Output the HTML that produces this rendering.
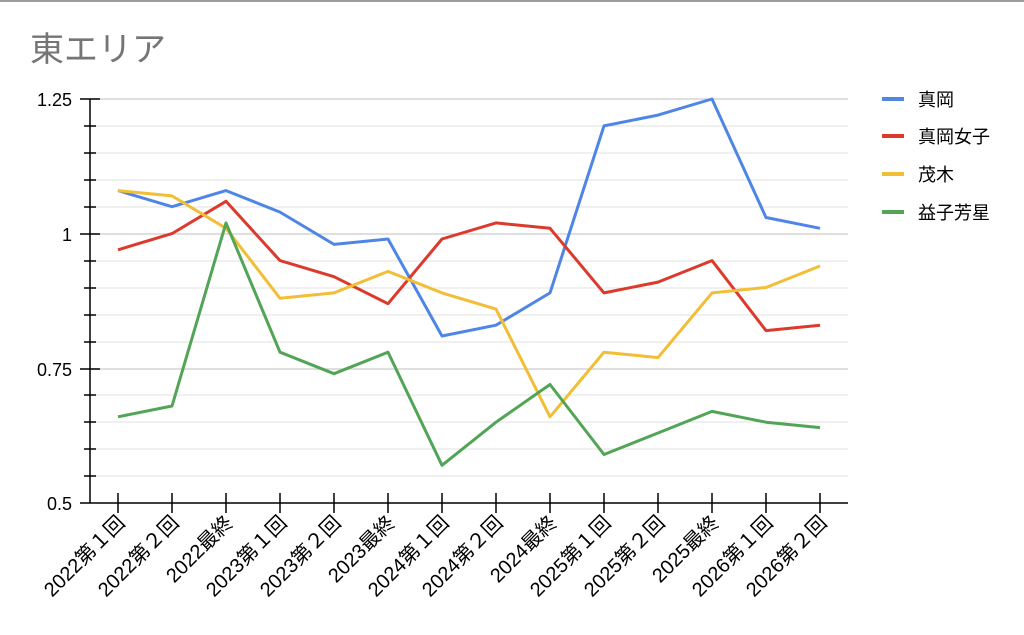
<!DOCTYPE html>
<html><head><meta charset="utf-8"><style>
body{margin:0;background:#fff;}
svg{display:block;font-family:"Liberation Sans","Noto Sans CJK JP",sans-serif;}
</style></head><body>
<svg width="1024" height="635" viewBox="0 0 1024 635" xmlns="http://www.w3.org/2000/svg">
<rect x="0" y="0" width="1024" height="2" fill="#9e9e9e"/>
<text x="30" y="61" font-size="34" fill="#757575">東エリア</text>
<g stroke="#e0e0e0" stroke-width="1">
<line x1="90" x2="848" y1="126" y2="126"/><line x1="90" x2="848" y1="153" y2="153"/><line x1="90" x2="848" y1="180" y2="180"/><line x1="90" x2="848" y1="207" y2="207"/>
<line x1="90" x2="848" y1="261" y2="261"/><line x1="90" x2="848" y1="288" y2="288"/><line x1="90" x2="848" y1="315" y2="315"/><line x1="90" x2="848" y1="342" y2="342"/>
<line x1="90" x2="848" y1="395" y2="395"/><line x1="90" x2="848" y1="422" y2="422"/><line x1="90" x2="848" y1="449" y2="449"/><line x1="90" x2="848" y1="476" y2="476"/>
</g>
<g stroke="#cccccc" stroke-width="1.2">
<line x1="90" x2="848" y1="99" y2="99"/><line x1="90" x2="848" y1="234" y2="234"/><line x1="90" x2="848" y1="369" y2="369"/>
</g>
<g stroke="#000" stroke-width="1.5">
<line x1="90" y1="99" x2="90" y2="503"/><line x1="80" y1="503" x2="848" y2="503"/>
<line x1="80" x2="100" y1="99" y2="99"/><line x1="80" x2="100" y1="234" y2="234"/><line x1="80" x2="100" y1="369" y2="369"/>
<line x1="84" x2="96" y1="126" y2="126"/><line x1="84" x2="96" y1="153" y2="153"/><line x1="84" x2="96" y1="180" y2="180"/><line x1="84" x2="96" y1="207" y2="207"/>
<line x1="84" x2="96" y1="261" y2="261"/><line x1="84" x2="96" y1="288" y2="288"/><line x1="84" x2="96" y1="315" y2="315"/><line x1="84" x2="96" y1="342" y2="342"/>
<line x1="84" x2="96" y1="395" y2="395"/><line x1="84" x2="96" y1="422" y2="422"/><line x1="84" x2="96" y1="449" y2="449"/><line x1="84" x2="96" y1="476" y2="476"/>
</g>
<g font-size="18" fill="#000" text-anchor="end">
<text x="72" y="106">1.25</text><text x="72" y="241">1</text><text x="72" y="376">0.75</text><text x="72" y="510">0.5</text>
</g>
<g id="xt" stroke="#000" stroke-width="1.5"></g>
<g id="xl" font-size="20" fill="#000" text-anchor="end"></g>
<g id="lines" fill="none" stroke-width="3" stroke-linejoin="round"></g>
<g font-size="18" fill="#000">
<rect x="882" y="97" width="22" height="4" fill="#4f86e6"/><text x="918" y="106">真岡</text>
<rect x="882" y="134" width="22" height="4" fill="#db3a2c"/><text x="918" y="143">真岡女子</text>
<rect x="882" y="172" width="22" height="4" fill="#f2be36"/><text x="918" y="181">茂木</text>
<rect x="882" y="210" width="22" height="4" fill="#52a556"/><text x="918" y="219">益子芳星</text>
</g>
</svg>
<script>
var labels=["2022第１回","2022第２回","2022最終","2023第１回","2023第２回","2023最終","2024第１回","2024第２回","2024最終","2025第１回","2025第２回","2025最終","2026第１回","2026第２回"];
var ns="http://www.w3.org/2000/svg";
function X(i){return 118+i*54;}
function Y(v){return 503-(v-0.5)*538.7;}
var xt=document.getElementById("xt"),xl=document.getElementById("xl");
labels.forEach(function(l,i){
var t=document.createElementNS(ns,"line");t.setAttribute("x1",X(i));t.setAttribute("x2",X(i));t.setAttribute("y1",493);t.setAttribute("y2",513);xt.appendChild(t);
var s=document.createElementNS(ns,"text");s.setAttribute("transform","translate("+(X(i)+8)+",524) rotate(-45)");s.textContent=l;xl.appendChild(s);});
var data=[["#4f86e6",[1.08,1.05,1.08,1.04,0.98,0.99,0.81,0.83,0.89,1.20,1.22,1.25,1.03,1.01]],
["#db3a2c",[0.97,1.00,1.06,0.95,0.92,0.87,0.99,1.02,1.01,0.89,0.91,0.95,0.82,0.83]],
["#f2be36",[1.08,1.07,1.01,0.88,0.89,0.93,0.89,0.86,0.66,0.78,0.77,0.89,0.90,0.94]],
["#52a556",[0.66,0.68,1.02,0.78,0.74,0.78,0.57,0.65,0.72,0.59,0.63,0.67,0.65,0.64]]];
var g=document.getElementById("lines");
data.forEach(function(d){var p=document.createElementNS(ns,"polyline");p.setAttribute("stroke",d[0]);
p.setAttribute("points",d[1].map(function(v,i){return X(i)+","+Y(v).toFixed(1);}).join(" "));g.appendChild(p);});
</script>
</body></html>
